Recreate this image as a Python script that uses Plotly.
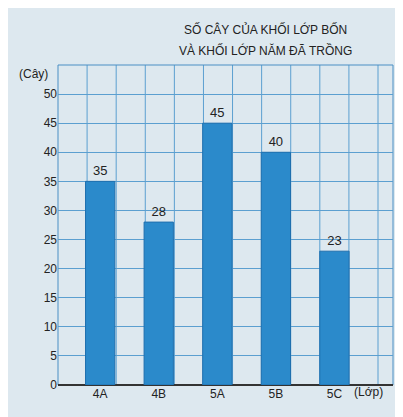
import plotly.graph_objects as go

classes = ["4A", "4B", "5A", "5B", "5C"]
trees = [35, 28, 45, 40, 23]
y_ticks = list(range(0, 55, 5))

W, H = 403, 417
L, R, T, B = 50, 18, 57, 40

fig = go.Figure()
fig.add_trace(go.Bar(
    x=classes, y=trees, width=0.5,
    marker=dict(color="#2b8acb", line=dict(color="#1f6fae", width=1)),
    text=[str(v) for v in trees], textposition="outside",
    textfont=dict(size=13, color="#222"), cliponaxis=False,
))

# vertical grid lines (square grid, same spacing as 5 units on y)
plot_w = W - L - R
plot_h = H - T - B
step = plot_h / 11 / plot_w
shapes = []
k = 1
while k * step < 1.0:
    shapes.append(dict(type="line", xref="paper", yref="paper", x0=k * step, x1=k * step,
                       y0=0, y1=1, line=dict(color="#5b9fd0", width=1), layer="below"))
    k += 1
shapes.append(dict(type="rect", xref="paper", yref="paper", x0=0, x1=1, y0=0, y1=1,
                   line=dict(color="#4a8fc4", width=1), layer="below"))

fig.update_layout(
    width=W, height=H,
    margin=dict(l=L, r=R, t=T, b=B),
    paper_bgcolor="#dde8ef", plot_bgcolor="#dde8ef",
    font=dict(family="Liberation Sans, Arial", size=12, color="#222"),
    showlegend=False, shapes=shapes,
    xaxis=dict(range=[-0.72, 5.0], showgrid=False, ticks="", tickfont=dict(size=12)),
    yaxis=dict(range=[0, 55], tickvals=y_ticks, showgrid=True, gridcolor="#5b9fd0",
               gridwidth=1, zeroline=True, zerolinecolor="#333", ticks="", tickfont=dict(size=12)),
    annotations=[
        dict(text="SỐ CÂY CỦA KHỐI LỚP BỐN", xref="paper", yref="paper", x=0.62, y=1.0,
             yshift=45, showarrow=False, font=dict(size=12)),
        dict(text="VÀ KHỐI LỚP NĂM ĐÃ TRỒNG", xref="paper", yref="paper", x=0.62, y=1.0,
             yshift=24, showarrow=False, font=dict(size=12)),
        dict(text="(Cây)", xref="paper", yref="paper", x=0, xshift=-8, y=1.0, yshift=0,
             xanchor="right", showarrow=False, font=dict(size=12)),
        dict(text="(Lớp)", xref="paper", yref="paper", x=0.975, y=0, yshift=-16,
             showarrow=False, font=dict(size=12)),
    ],
)
fig.write_html("out.html")
